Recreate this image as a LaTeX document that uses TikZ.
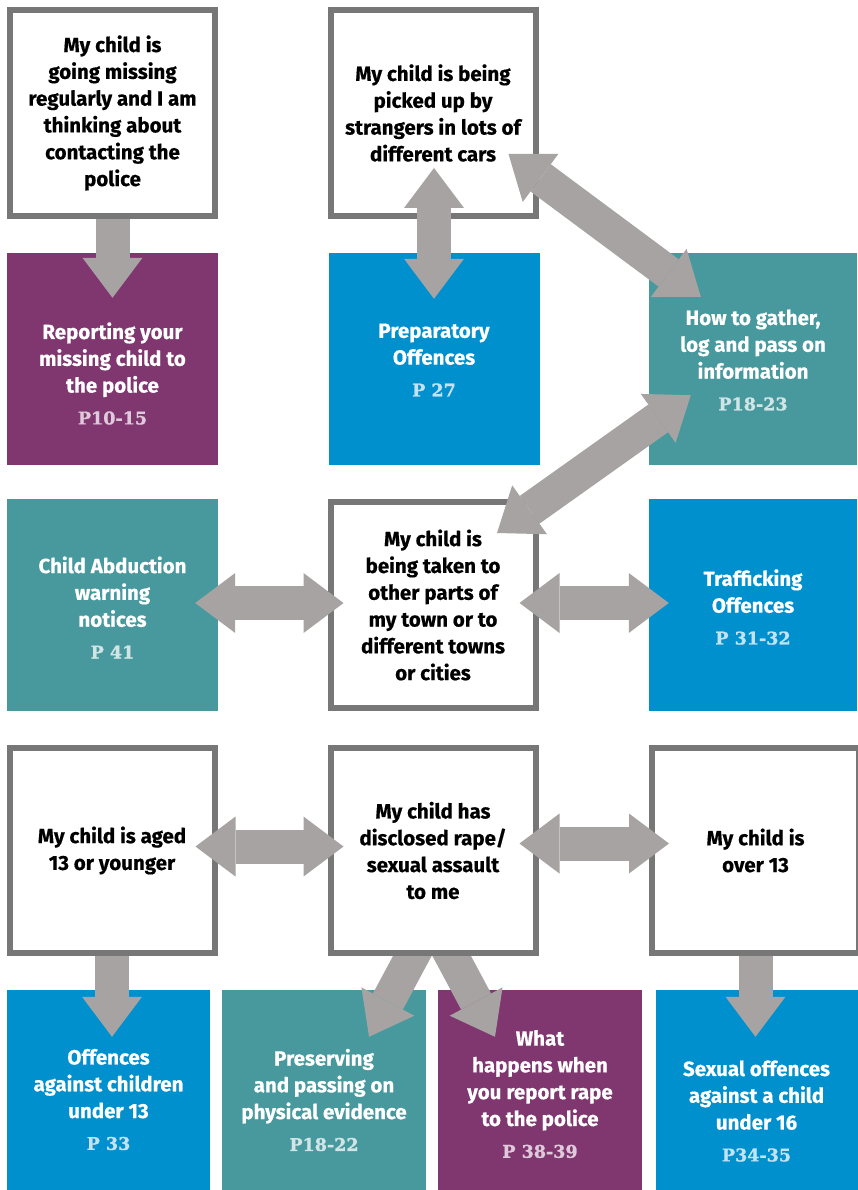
\documentclass[tikz,border=0pt]{standalone}
\usepackage{fontspec}
\setmainfont{Fira Sans}[BoldFeatures={FakeBold=0.5}]
\newfontfamily\pagefont{DejaVu Serif}[BoldFeatures={FakeBold=1.2}]
\usetikzlibrary{arrows.meta,backgrounds,calc}

\definecolor{framegray}{HTML}{777777}
\definecolor{arrowgray}{HTML}{A6A3A2}
\definecolor{guidepurple}{HTML}{80366F}
\definecolor{guideblue}{HTML}{0090CD}
\definecolor{guideteal}{HTML}{47999D}
\definecolor{pnumpurple}{HTML}{DFCADC}
\definecolor{pnumblue}{HTML}{C3E3F5}
\definecolor{pnumteal}{HTML}{D2E5E6}

\newcommand{\guidefont}{\bfseries\fontsize{20.5}{26.8}\selectfont}
\newcommand{\pnum}[2]{{\pagefont\bfseries\fontsize{17.5}{20}\selectfont\color{#1}#2}}

\tikzset{
	askbox/.style={draw=framegray, line width=6pt, fill=white, minimum width=205pt, minimum height=206pt, inner sep=0pt, align=center, font=\guidefont},
	infobox/.style={minimum width=211pt, minimum height=212pt, inner sep=0pt},
	infotext/.style={align=center, text=white, font=\guidefont, inner sep=0pt},
	oneway/.style={draw=arrowgray, line width=34pt, -{Triangle[width=60pt,length=40pt,line width=0pt]}},
	twoway/.style={draw=arrowgray, line width=34pt, {Triangle[width=60pt,length=40pt,line width=0pt]}-{Triangle[width=60pt,length=40pt,line width=0pt]}}
}

\begin{document}
\begin{tikzpicture}[x=1pt,y=-1pt]
			\useasboundingbox (0,0) rectangle (857,1190);
			
			% questions
			\node[askbox] (missing) at (112.5,113) {My child is\\going missing\\regularly and I am\\thinking about\\contacting the\\police};
			\node[askbox] (cars) at (433,113) {My child is being\\picked up by\\strangers in lots of\\different cars};
			\node[askbox] (taken) at (433,605) {My child is\\being taken to\\other parts of\\my town or to\\different towns\\or cities};
			\node[askbox, minimum height=205pt] (young) at (112,850.5) {My child is aged\\13 or younger};
			\node[askbox, minimum height=205pt] (rape) at (433,850.5) {My child has\\disclosed rape/\\sexual assault\\to me};
			\node[askbox, minimum height=205pt, minimum width=207pt] (over) at (755.5,850.5) {My child is\\over 13};
			
			\begin{scope}[on background layer]
				% guide pages
				\node[infobox, fill=guidepurple] (report) at (112.5,359) {};
				\node[infobox, fill=guideblue] (prep) at (434,359) {};
				\node[infobox, fill=guideteal, minimum width=208pt] (gather) at (753,359) {};
				\node[infobox, fill=guideteal] (abduct) at (112.5,605) {};
				\node[infobox, fill=guideblue, minimum width=208pt] (traffic) at (753,605) {};
				\node[infobox, fill=guideblue, minimum width=203pt, minimum height=205pt] (offunder) at (108.5,1092.5) {};
				\node[infobox, fill=guideteal, minimum width=204pt, minimum height=205pt] (evidence) at (324,1092.5) {};
				\node[infobox, fill=guidepurple, minimum width=204pt, minimum height=205pt] (whathappens) at (540,1092.5) {};
				\node[infobox, fill=guideblue, minimum width=202pt, minimum height=205pt] (sexoff) at (756.5,1092.5) {};
				
				\draw[oneway] (missing.south) -- ($(report.north)+(0,45)$);
				\draw[oneway] (young.south) -- ($(young.south |- offunder.north)+(0,47)$);
				\draw[oneway] (over.south) -- ($(over.south |- sexoff.north)+(0,47)$);
				\draw[oneway] ($(rape.south)+(-10,-20)$) -- ($(evidence.north)+(45,47)$);
				\draw[oneway] ($(rape.south)+(8,-20)$) -- ($(whathappens.north)+(-45,47)$);
			\end{scope}
			
			\node[infotext] (report-txt) at (112.5,373.5) {Reporting your\\missing child to\\the police\\[5pt]\pnum{pnumpurple}{P10-15}};
			\node[infotext] (prep-txt) at (434,360) {Preparatory\\Offences\\[5pt]\pnum{pnumblue}{P 27}};
			\node[infotext] (gather-txt) at (753,360) {How to gather,\\log and pass on\\information\\[5pt]\pnum{pnumteal}{P18-23}};
			\node[infotext] (abduct-txt) at (112.5,607.5) {Child Abduction\\warning\\notices\\[5pt]\pnum{pnumteal}{P 41}};
			\node[infotext] (traffic-txt) at (753,607) {Trafficking\\Offences\\[5pt]\pnum{pnumblue}{P 31-32}};
			\node[infotext] (offunder-txt) at (108.5,1099.5) {Offences\\against children\\under 13\\[5pt]\pnum{pnumblue}{P 33}};
			\node[infotext] (evidence-txt) at (324,1100) {Preserving\\and passing on\\physical evidence\\[5pt]\pnum{pnumteal}{P18-22}};
			\node[infotext] (whathappens-txt) at (540,1094) {What\\happens when\\you report rape\\to the police\\[5pt]\pnum{pnumpurple}{P 38-39}};
			\node[infotext] (sexoff-txt) at (756.5,1111) {Sexual offences\\against a child\\under 16\\[5pt]\pnum{pnumblue}{P34-35}};
			
			% two way arrows
			\draw[twoway] ($(cars.south)+(1,-51)$) -- ($(prep.north)+(0,46)$);
			\draw[twoway] ($(cars.east)+(-30,41)$) -- ($(gather.north west)+(52,44)$);
			\draw[twoway] ($(taken.north)+(64,34)$) -- ($(gather.south west)+(42,-70)$);
			\draw[twoway] ($(abduct.east)+(-23,-2)$) -- ($(taken.west)+(16,-2)$);
			\draw[twoway] ($(taken.east)+(-19,-2)$) -- ($(traffic.west)+(20,-2)$);
			\draw[twoway] ($(young.east)+(-22,-4)$) -- ($(rape.west)+(16,-4)$);
			\draw[twoway] ($(rape.east)+(-19,-7)$) -- ($(over.west)+(20,-7)$);
		\end{tikzpicture}
\end{document}
